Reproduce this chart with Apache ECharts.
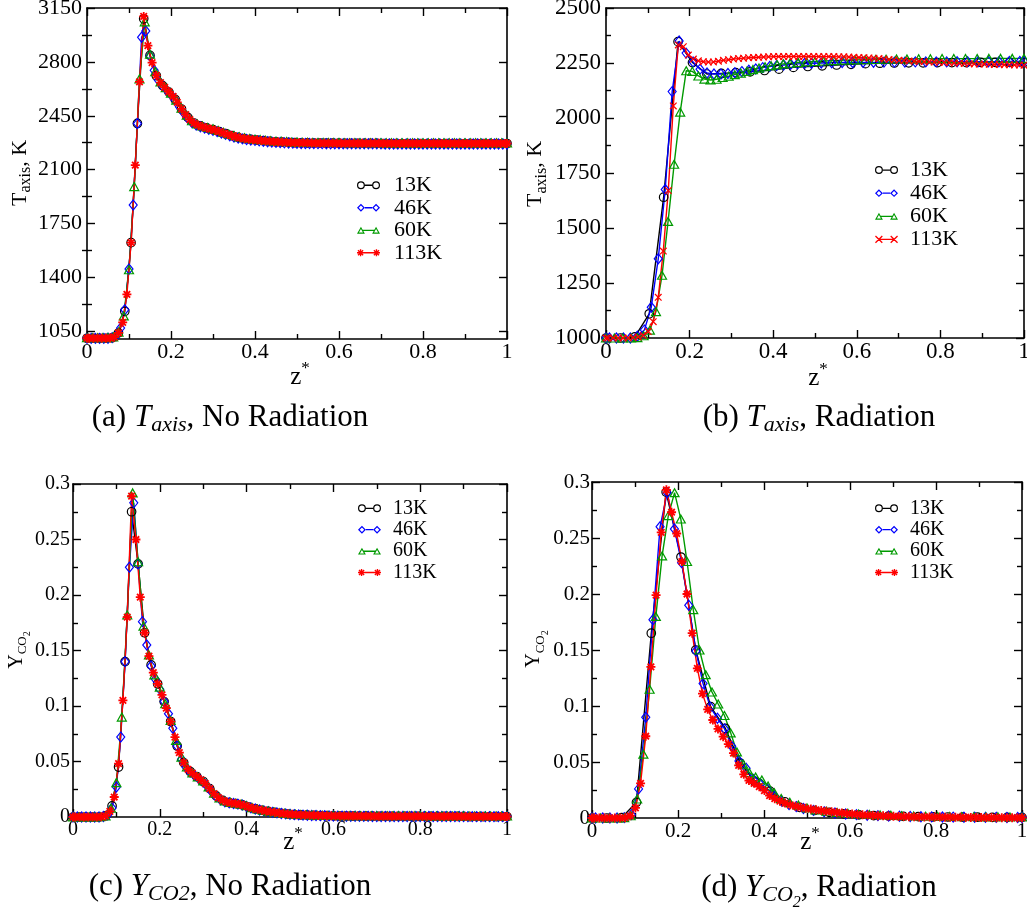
<!DOCTYPE html>
<html>
<head>
<meta charset="utf-8">
<title>Axial temperature and CO2 profiles – mesh study</title>
<script src="https://cdn.jsdelivr.net/npm/echarts@6.0.0/dist/echarts.min.js"></script>
<style>
  html, body { margin: 0; padding: 0; background: #fff; }
  #chart { width: 1027px; height: 915px; }
</style>
</head>
<body>
<div id="chart"></div>
<script>
// ---------------------------------------------------------------------------
// Axial sample positions (z*) of the four meshes, no-radiation runs
// ---------------------------------------------------------------------------
const zNR13 = [0,0.015,0.03,0.045,0.06,0.075,0.09,0.105,0.12,0.135,0.15,0.165,0.18,0.195,0.21,0.225,0.24,0.255,0.27,0.285,0.3,0.315,0.33,0.345,0.36,0.375,0.39,0.405,0.42,0.435,0.45,0.465,0.48,0.495,0.51,0.525,0.54,0.555,0.57,0.585,0.6,0.615,0.63,0.645,0.66,0.675,0.69,0.705,0.72,0.735,0.75,0.765,0.78,0.795,0.81,0.825,0.84,0.855,0.87,0.885,0.9,0.915,0.93,0.945,0.96,0.975,0.99,1];
const zNR46 = [0,0.01,0.02,0.03,0.04,0.05,0.06,0.07,0.08,0.09,0.1,0.11,0.12,0.13,0.14,0.15,0.16,0.17,0.18,0.19,0.2,0.21,0.22,0.23,0.24,0.25,0.26,0.27,0.28,0.29,0.3,0.31,0.32,0.33,0.34,0.35,0.36,0.37,0.38,0.39,0.4,0.41,0.42,0.43,0.44,0.45,0.46,0.47,0.48,0.49,0.5,0.51,0.52,0.53,0.54,0.55,0.56,0.57,0.58,0.59,0.6,0.61,0.62,0.63,0.64,0.65,0.66,0.67,0.68,0.69,0.7,0.71,0.72,0.73,0.74,0.75,0.76,0.77,0.78,0.79,0.8,0.81,0.82,0.83,0.84,0.85,0.86,0.87,0.88,0.89,0.9,0.91,0.92,0.93,0.94,0.95,0.96,0.97,0.98,0.99,1];
const zNR60 = [0,0.0125,0.025,0.0375,0.05,0.0625,0.075,0.0875,0.1,0.1125,0.125,0.1375,0.15,0.1625,0.175,0.1875,0.2,0.2125,0.225,0.2375,0.25,0.2625,0.275,0.2875,0.3,0.3125,0.325,0.3375,0.35,0.3625,0.375,0.3875,0.4,0.4125,0.425,0.4375,0.45,0.4625,0.475,0.4875,0.5,0.5125,0.525,0.5375,0.55,0.5625,0.575,0.5875,0.6,0.6125,0.625,0.6375,0.65,0.6625,0.675,0.6875,0.7,0.7125,0.725,0.7375,0.75,0.7625,0.775,0.7875,0.8,0.8125,0.825,0.8375,0.85,0.8625,0.875,0.8875,0.9,0.9125,0.925,0.9375,0.95,0.9625,0.975,0.9875,1];
const zNR113 = [0,0.005,0.015,0.025,0.035,0.045,0.055,0.065,0.075,0.085,0.095,0.105,0.115,0.125,0.135,0.145,0.155,0.165,0.175,0.185,0.195,0.205,0.215,0.225,0.235,0.245,0.255,0.265,0.275,0.285,0.295,0.305,0.315,0.325,0.335,0.345,0.355,0.365,0.375,0.385,0.395,0.405,0.415,0.425,0.435,0.445,0.455,0.465,0.475,0.485,0.495,0.505,0.515,0.525,0.535,0.545,0.555,0.565,0.575,0.585,0.595,0.605,0.615,0.625,0.635,0.645,0.655,0.665,0.675,0.685,0.695,0.705,0.715,0.725,0.735,0.745,0.755,0.765,0.775,0.785,0.795,0.805,0.815,0.825,0.835,0.845,0.855,0.865,0.875,0.885,0.895,0.905,0.915,0.925,0.935,0.945,0.955,0.965,0.975,0.985,0.995,1];

// (a) axial temperature [K], no radiation
const tA13 = [1005,1005,1005,1005,1008,1040,1180,1626,2400,3080,2842,2710,2646,2604,2556,2494,2440,2403,2384,2371,2360,2347,2334,2321,2310,2302,2297,2292,2288,2284,2281,2279,2277,2275,2274,2274,2273,2273,2272,2272,2272,
  2271,2271,2271,2271,2271,2271,
  2270,2270,2270,2270,2270,2270,2270,2270,2270,2270,2270,2270,2270,2270,2270,2270,2270,2270,2270,2270,2270];
const tA46 = [1004,1004,1004,1004,1004,1005,1009,1022,1072,1190,1455,1870,2400,2960,3000,2838,2745,2680,2643,2615,2586,2553,2509,2469,2434,2406,2390,2379,2370,2362,2355,2347,2338,2329,2320,2312,2305,2300,2296,2293,2290,2287,2284,2281,2279,2277,2276,2274,2273,2272,2271,2270,2270,2270,2269,2269,2269,
  2268,2268,2268,2268,2268,2268,2268,2268,2268,2268,2268,2268,2268,2268,
  2267,2267,2267,2267,2267,2267,2267,2267,2267,2267,2267,2267,2267,2267,2267,2267,2267,2267,2267,2267,2267,2267,2267,2267,2267,2267,2267,2267,2267,2267];
const tA60 = [1008,1008,1008,1008,1009,1014,1045,1150,1450,1990,2690,3060,2850,2736,2670,2632,2597,2552,2500,2454,2418,2397,2384,2374,2365,2355,2343,2332,2322,2313,2307,2302,2298,2295,2291,2288,2285,2284,2282,2280,2279,2278,2278,2277,2277,2277,2276,2276,2276,
  2275,2275,2275,2275,2275,2275,2275,2275,
  2274,2274,2274,2274,2274,2274,2274,2274,2274,2274,2274,2274,2274,2274,2274,2274,2274,2274,2274,2274,2274,2274,2274,2274];
const tA113 = [1005,1005,1005,1005,1005,1005,1006,1012,1040,1108,1290,1626,2130,2670,3095,2905,2795,2712,2665,2635,2606,2576,2537,2495,2457,2425,2403,2389,2379,2371,2363,2356,2347,2338,2329,2321,2313,2307,2302,2298,2295,2292,2289,2286,2284,2282,2280,2279,2277,2276,2275,2275,2274,2274,2273,2273,2273,2272,2272,2272,2272,
  2271,2271,2271,2271,2271,2271,2271,2271,2271,2271,
  2270,2270,2270,2270,2270,2270,2270,2270,2270,2270,2270,2270,2270,2270,2270,2270,2270,2270,2270,2270,2270,2270,2270,2270,2270,2270,2270,2270,2270,2270,2270];

// (c) CO2 mass fraction, no radiation
const cA13 = [0,0,0,0,0,0.001,0.01,0.045,0.14,0.275,0.228,0.166,0.137,0.12,0.104,0.086,0.064,0.049,0.041,0.0365,0.032,0.0255,0.019,0.015,0.013,0.0121,0.011,0.009,0.0074,0.0061,0.005,0.0041,0.0033,0.0027,0.0022,0.0019,0.0017,0.0015,0.0013,0.0012,0.001,0.0009,0.0009,0.0008,0.0008,0.0007,0.0007,
  0.0006,0.0006,0.0006,0.0006,0.0006,0.0006,0.0006,0.0005,0.0005,0.0005,0.0005,0.0005,0.0005,0.0005,0.0004,0.0004,0.0004,0.0004,0.0004,0.0004,0.0004];
const cA46 = [0,0,0,0,0,0,0,0.0005,0.002,0.008,0.027,0.072,0.14,0.225,0.283,0.228,0.176,0.155,0.136,0.124,0.115,0.104,0.093,0.08,0.064,0.052,0.045,0.0405,0.0375,0.0345,0.0315,0.0275,0.0225,0.0185,0.0155,0.0137,0.0128,0.0122,0.0116,0.0108,0.0095,0.0082,0.0072,0.0063,0.0055,0.0048,0.0042,0.0037,0.0032,0.0028,0.0024,0.0021,0.0019,0.0017,0.0016,0.0014,0.0013,0.0012,0.0011,0.001,0.0009,0.0008,0.0008,0.0007,0.0007,0.0007,0.0006,0.0006,0.0006,0.0005,0.0005,
  0.0005,0.0005,0.0005,0.0005,0.0005,0.0005,0.0005,0.0005,0.0005,0.0005,
  0.0004,0.0004,0.0004,0.0004,0.0004,0.0004,0.0004,0.0004,0.0004,0.0004,
  0.0003,0.0003,0.0003,0.0003,0.0003,0.0003,0.0003,0.0003,0.0003,0.0003];
const cA60 = [0,0,0,0,0,0.0002,0.001,0.008,0.031,0.09,0.182,0.292,0.23,0.172,0.146,0.128,0.117,0.102,0.087,0.069,0.054,0.045,0.0398,0.036,0.0325,0.027,0.0215,0.0172,0.0145,0.0132,0.0124,0.0116,0.0101,0.0085,0.0072,0.0062,0.0053,0.0046,0.0039,0.0033,0.0028,0.0025,0.0022,0.002,0.0018,0.0016,0.0015,0.0014,0.0013,
  0.0012,0.0012,0.0012,0.0012,0.0012,0.0012,0.0012,0.0012,
  0.0011,0.0011,0.0011,0.0011,0.0011,0.0011,0.0011,0.0011,
  0.001,0.001,0.001,0.001,0.001,0.001,0.001,0.001,
  0.0009,0.0009,0.0009,0.0009,0.0009,0.0009,0.0009,0.0009];
const cA113 = [0,0,0,0,0,0,0,0.0002,0.001,0.005,0.018,0.048,0.105,0.18,0.289,0.25,0.198,0.166,0.145,0.13,0.12,0.11,0.098,0.086,0.072,0.058,0.049,0.043,0.0395,0.0365,0.0335,0.03,0.0255,0.021,0.0175,0.015,0.0135,0.0127,0.0121,0.0114,0.0104,0.009,0.0079,0.0069,0.0061,0.0053,0.0047,0.0041,0.0036,0.0031,0.0027,0.0024,0.0021,0.0019,0.0018,0.0016,0.0015,0.0014,0.0013,0.0012,0.0011,0.001,0.001,0.0009,0.0009,0.0008,0.0008,0.0007,0.0007,0.0007,0.0006,
  0.0006,0.0006,0.0006,0.0006,0.0006,0.0006,0.0006,0.0006,0.0006,0.0006,
  0.0005,0.0005,0.0005,0.0005,0.0005,0.0005,0.0005,0.0005,0.0005,0.0005,
  0.0004,0.0004,0.0004,0.0004,0.0004,0.0004,0.0004,0.0004,0.0004,0.0004,0.0004];

// ---------------------------------------------------------------------------
// Axial sample positions (z*) of the four meshes, radiation runs
// ---------------------------------------------------------------------------
const zR13 = [0,0.0345,0.069,0.1034,0.1379,0.1724,0.2069,0.2414,0.2759,0.3103,0.3448,0.3793,0.4138,0.4483,0.4828,0.5172,0.5517,0.5862,0.6207,0.6552,0.6897,0.7241,0.7586,0.7931,0.8276,0.8621,0.8966,0.931,0.9655,1];
const zR46 = [0,0.0083,0.025,0.0417,0.0583,0.075,0.0917,0.1083,0.125,0.1417,0.1583,0.175,0.1917,0.2083,0.225,0.2417,0.2583,0.275,0.2917,0.3083,0.325,0.3417,0.3583,0.375,0.3917,0.4083,0.425,0.4417,0.4583,0.475,0.4917,0.515,0.54,0.565,0.59,0.615,0.64,0.665,0.69,0.715,0.74,0.765,0.79,0.815,0.84,0.865,0.89,0.915,0.94,0.965,0.99,1];
const zR60 = [0,0.02,0.04,0.06,0.075,0.09,0.105,0.1195,0.134,0.1485,0.163,0.1775,0.192,0.2065,0.221,0.2355,0.25,0.2645,0.279,0.2935,0.308,0.3225,0.337,0.3515,0.366,0.3805,0.395,0.4095,0.424,0.44,0.46,0.48,0.5,0.52,0.545,0.57,0.595,0.62,0.645,0.67,0.695,0.72,0.748,0.776,0.804,0.832,0.86,0.888,0.916,0.944,0.972,1];
const zR113 = [0,0.005,0.017,0.029,0.041,0.053,0.065,0.077,0.089,0.101,0.113,0.125,0.137,0.149,0.161,0.173,0.185,0.197,0.209,0.221,0.233,0.245,0.257,0.269,0.281,0.293,0.305,0.317,0.329,0.341,0.353,0.365,0.377,0.389,0.401,0.413,0.425,0.437,0.449,0.461,0.473,0.485,0.497,0.509,0.521,0.533,0.545,0.557,0.569,0.581,0.593,0.605,0.617,0.629,0.641,0.653,0.665,0.677,0.689,0.701,0.713,0.725,0.737,0.749,0.761,0.773,0.785,0.797,0.809,0.821,0.833,0.845,0.857,0.869,0.881,0.893,0.905,0.917,0.929,0.941,0.953,0.965,0.977,0.989,1];

// (b) axial temperature [K], radiation
const tB13 = [1000,1000,1005,1110,1640,2347,2252,2200,2203,2206,2210,2216,2222,2230,2234,2237,2241,2244,2247,2249,2250,2251,2251,2252,2252,2252,2253,2253,2253,2253];
const tB46 = [1000,1000,1000,1000,1000,1008,1036,1140,1360,1675,2120,2350,2295,2255,2222,2205,2200,2200,2202,2206,2211,2217,2223,2229,2234,2238,2241,2244,2246,2248,2249,
  2250,2251,2252,2252,2253,2253,2254,2254,2254,2255,2255,2255,2255,2256,2256,2256,2256,2256,2257,2257,2257];
const tB60 = [1000,1000,1000,1000,1002,1010,1036,1120,1285,1530,1790,2027,2215,2212,2191,2177,2173,2176,2184,2190,2197,2204,2212,2220,2227,2233,2238,2242,2246,
  2249,2252,2255,2257,2259,2261,2263,2264,2265,2266,2267,2268,2268,2269,2269,2270,2270,2270,2270,2271,2271,2271,2271];
const tB113 = [1000,1000,1000,1000,1000,1000,1002,1005,1012,1029,1074,1185,1395,1670,2055,2332,2324,2286,2268,2260,2256,2254,2255,2258,2262,2265,2268,2270,2272,2274,2275,2276,2277,2278,2279,
  2279,2279,2280,2280,2280,2280,2280,2280,2279,2279,2279,2279,2278,2278,
  2277,2276,2275,2274,2273,2272,2270,2268,2266,2264,2262,2261,2259,2258,2257,2256,2255,2254,2253,2252,2251,2250,2249,2248,2247,2246,2245,2245,2244,2243,2243,2242,2242,2241,2241,2240];

// (d) CO2 mass fraction, radiation
const cD13 = [0,0,0.0003,0.014,0.165,0.291,0.233,0.15,0.0994,0.08,0.049,0.032,0.024,0.0145,0.0095,0.0067,0.005,0.0037,0.0028,0.0022,0.0018,0.0015,0.0012,0.001,0.0009,0.0008,0.0007,0.0006,0.0005,0.0005];
const cD46 = [0,0,0,0,0,0.0003,0.003,0.026,0.09,0.177,0.26,0.2905,0.258,0.228,0.19,0.149,0.12,0.099,0.089,0.0795,0.064,0.051,0.0445,0.0345,0.0299,0.026,0.0195,0.015,0.012,0.0102,0.0085,
  0.0068,0.0055,0.0044,0.0036,0.003,0.0025,0.0021,0.0018,0.0015,0.0013,0.0011,0.001,0.0009,0.0008,0.0007,0.0007,0.0006,0.0006,0.0005,0.0005,0.0005];
const cD60 = [0,0,0,0,0.0003,0.002,0.017,0.057,0.115,0.18,0.234,0.27,0.2905,0.267,0.229,0.186,0.15,0.128,0.1125,0.1018,0.0915,0.076,0.059,0.048,0.0405,0.0367,0.034,0.0285,0.0225,
  0.0175,0.014,0.0115,0.009,0.0072,0.006,0.005,0.0042,0.0036,0.0031,0.0027,0.0024,0.0021,0.0018,0.0016,0.0014,0.0013,0.0012,0.0011,0.001,0.001,0.0009,0.0009];
const cD113 = [0,0,0,0,0,0,0,0.0003,0.002,0.009,0.031,0.073,0.135,0.199,0.255,0.293,0.273,0.254,0.229,0.2,0.165,0.1336,0.111,0.097,0.0875,0.0795,0.0726,0.066,0.058,0.047,0.039,0.0335,0.031,0.028,0.0245,0.02,0.0172,0.015,0.0133,0.0118,0.0105,0.0095,0.0087,0.008,0.0073,0.0066,0.006,0.0055,0.005,0.0045,0.004,0.0036,0.0032,0.0029,0.0026,0.0023,0.0021,0.0019,0.0017,0.0015,0.0014,0.0013,0.0012,0.0011,0.001,0.0009,0.0009,0.0008,0.0008,0.0007,0.0007,0.0006,0.0006,0.0005,0.0005,0.0005,0.0004,0.0004,0.0004,0.0003,0.0003,0.0003,0.0003,0.0003,0.0003];

// Mesh labels and the temperature ticks of panel (a)
const meshNames = ['13K', '46K', '60K', '113K'];
const tTicksA = [1050, 1400, 1750, 2100, 2450, 2800, 3150];
const tMinorA = [1225, 1575, 1925, 2275, 2625, 2975];

// ---------------------------------------------------------------------------
const FONT = 'Liberation Serif';
const COLORS = ['#000000', '#0000ff', '#009a00', '#ff0000'];

// --- marker geometry helpers (path strings) --------------------------------
function ringPath(cx, cy, R, r) {
  return `M${cx - R} ${cy}A${R} ${R} 0 1 1 ${cx + R} ${cy}A${R} ${R} 0 1 1 ${cx - R} ${cy}Z` +
         `M${cx - r} ${cy}A${r} ${r} 0 1 0 ${cx + r} ${cy}A${r} ${r} 0 1 0 ${cx - r} ${cy}Z`;
}
function diamondRing(cx, cy, R, r) {
  return `M${cx - R} ${cy}L${cx} ${cy - R}L${cx + R} ${cy}L${cx} ${cy + R}Z` +
         `M${cx - r} ${cy}L${cx} ${cy + r}L${cx + r} ${cy}L${cx} ${cy - r}Z`;
}
function triRing(cx, cy) {
  return `M${cx} ${cy - 6.6}L${cx + 7.2} ${cy + 6}L${cx - 7.2} ${cy + 6}Z` +
         `M${cx} ${cy - 2.4}L${cx - 3.7} ${cy + 3.9}L${cx + 3.7} ${cy + 3.9}Z`;
}
function starPath(cx, cy, R, t, plus) {
  let p = '';
  let d = R;
  if (plus) {
    p += `M${cx - t} ${cy - R}H${cx + t}V${cy + R}H${cx - t}Z`;
    p += `M${cx - R} ${cy - t}H${cx + R}V${cy + t}H${cx - R}Z`;
    d = R * 0.72;
  }
  const o = t * Math.SQRT1_2;
  p += `M${cx - d + o} ${cy - d - o}L${cx + d + o} ${cy + d - o}L${cx + d - o} ${cy + d + o}L${cx - d - o} ${cy - d + o}Z`;
  p += `M${cx + d - o} ${cy - d - o}L${cx + d + o} ${cy - d + o}L${cx - d + o} ${cy + d + o}L${cx - d - o} ${cy + d - o}Z`;
  return p;
}
function bar(x0, x1, cy) {
  return `M${x0} ${cy - 1.2}H${x1}V${cy + 1.2}H${x0}Z`;
}
// legend glyph: marker – line – marker
function pairIcon(kind) {
  switch (kind) {
    case 'circle':   return 'path://' + ringPath(7.2, 7.2, 7.2, 5, 0) + bar(14.4, 27.6, 7.2) + ringPath(34.8, 7.2, 7.2, 5);
    case 'diamond':  return 'path://' + diamondRing(7.2, 7.2, 7.2, 4.1) + bar(14.4, 27.6, 7.2) + diamondRing(34.8, 7.2, 7.2, 4.1);
    case 'triangle': return 'path://' + triRing(7.2, 7.2) + bar(10, 32, 7.2) + triRing(34.8, 7.2);
    case 'asterisk': return 'path://' + starPath(6.5, 7.2, 6.5, 1.25, true) + bar(6.5, 35.5, 7.2) + starPath(35.5, 7.2, 6.5, 1.25, true);
    default:         return 'path://' + starPath(6.5, 7.2, 6.5, 1.25, false) + bar(6.5, 35.5, 7.2) + starPath(35.5, 7.2, 6.5, 1.25, false);
  }
}
const MARKS = {
  circle:   { symbol: 'circle', size: 8.5, hollow: true },
  diamond:  { symbol: 'diamond', size: [8, 10], hollow: true },
  triangle: { symbol: 'triangle', size: [9, 8], hollow: true },
  asterisk: { symbol: 'path://' + starPath(5, 5, 5, 1, true), size: 9, hollow: false },
  cross:    { symbol: 'path://' + starPath(5, 5, 5, 0.95, false), size: 7.5, hollow: false }
};

// --- axes ------------------------------------------------------------------
function fmt(v) { return String(Math.round(v * 10000) / 10000); }
function axisBase(extra) {
  return Object.assign({
    type: 'value',
    silent: true,
    axisLine: { show: true, onZero: false, lineStyle: { color: '#000', width: 1.6 } },
    axisTick: { show: true, inside: true, length: 8, lineStyle: { color: '#000', width: 1.4 } },
    minorTick: { show: true, splitNumber: 2, length: 5, lineStyle: { color: '#000', width: 1.4 } },
    splitLine: { show: false },
    minorSplitLine: { show: false },
    axisLabel: { show: false }
  }, extra);
}
function labels(fs, margin) {
  return { show: true, color: '#000', fontFamily: FONT, fontSize: fs, margin: margin, formatter: fmt };
}

const xAxis = [];
[[0, 22, 2], [1, 23, 2], [2, 20, 3], [3, 21, 3]].forEach(([g, fs, m]) => {
  xAxis.push(axisBase({ gridIndex: g, position: 'bottom', min: 0, max: 1, interval: 0.2, axisLabel: labels(fs, m) }));
  xAxis.push(axisBase({ gridIndex: g, position: 'top', min: 0, max: 1, interval: 0.2 }));
});

const tickLine = { color: '#000', width: 1.4 };
const yAxis = [
  // panel (a): labelled ticks start at 1050 while the frame starts at 1000
  axisBase({ gridIndex: 0, position: 'left', min: 1000, max: 3150,
    axisTick: { show: true, inside: true, length: 8, customValues: tTicksA, lineStyle: tickLine },
    minorTick: { show: false },
    axisLabel: Object.assign(labels(22, 5), { customValues: tTicksA }) }),
  axisBase({ gridIndex: 0, position: 'left', min: 1000, max: 3150, axisLine: { show: false },
    axisTick: { show: true, inside: true, length: 5, customValues: tMinorA, lineStyle: tickLine },
    minorTick: { show: false } }),
  axisBase({ gridIndex: 0, position: 'right', min: 1000, max: 3150,
    axisTick: { show: true, inside: true, length: 8, customValues: tTicksA, lineStyle: tickLine },
    minorTick: { show: false } }),
  axisBase({ gridIndex: 0, position: 'right', min: 1000, max: 3150, axisLine: { show: false },
    axisTick: { show: true, inside: true, length: 5, customValues: tMinorA, lineStyle: tickLine },
    minorTick: { show: false } }),
  // panel (b)
  axisBase({ gridIndex: 1, position: 'left', min: 1000, max: 2500, interval: 250, axisLabel: labels(23, 5) }),
  axisBase({ gridIndex: 1, position: 'right', min: 1000, max: 2500, interval: 250 }),
  // panel (c)
  axisBase({ gridIndex: 2, position: 'left', min: 0, max: 0.3, interval: 0.05, axisLabel: labels(20, 3) }),
  axisBase({ gridIndex: 2, position: 'right', min: 0, max: 0.3, interval: 0.05 }),
  // panel (d)
  axisBase({ gridIndex: 3, position: 'left', min: 0, max: 0.3, interval: 0.05, axisLabel: labels(21, 2) }),
  axisBase({ gridIndex: 3, position: 'right', min: 0, max: 0.3, interval: 0.05 })
];

// --- series ----------------------------------------------------------------
function line(name, xi, yi, zs, vs, mark, color) {
  const m = MARKS[mark];
  return {
    name: name, type: 'line', xAxisIndex: xi, yAxisIndex: yi,
    data: zs.map((z, i) => [z, vs[i]]),
    symbol: m.symbol, symbolSize: m.size, showSymbol: true, clip: false,
    lineStyle: { color: color, width: 1.4 },
    itemStyle: m.hollow ? { color: 'rgba(255,255,255,0)', borderColor: color, borderWidth: 1.2 }
                        : { color: color, borderWidth: 0 },
    emphasis: { disabled: true }, silent: true, animation: false
  };
}
const kindsStar = ['circle', 'diamond', 'triangle', 'asterisk'];
const kindsCross = ['circle', 'diamond', 'triangle', 'cross'];

const panels = [
  { key: 'a', xi: 0, yi: 0, z: [zNR13, zNR46, zNR60, zNR113], v: [tA13, tA46, tA60, tA113], kinds: kindsStar },
  { key: 'b', xi: 2, yi: 4, z: [zR13, zR46, zR60, zR113],     v: [tB13, tB46, tB60, tB113], kinds: kindsCross },
  { key: 'c', xi: 4, yi: 6, z: [zNR13, zNR46, zNR60, zNR113], v: [cA13, cA46, cA60, cA113], kinds: kindsStar },
  { key: 'd', xi: 6, yi: 8, z: [zR13, zR46, zR60, zR113],     v: [cD13, cD46, cD60, cD113], kinds: kindsStar }
];
const series = [];
panels.forEach(p => {
  meshNames.forEach((n, i) => {
    series.push(line(p.key + n, p.xi, p.yi, p.z[i], p.v[i], p.kinds[i], COLORS[i]));
  });
});

// --- legends -----------------------------------------------------------------
function legend(key, kinds, left, top, fs, lh, pad) {
  return {
    orient: 'vertical', left: left, top: top, padding: 0,
    itemWidth: 23, itemHeight: 8, itemGap: 0, selectedMode: false,
    data: meshNames.map((n, i) => ({ name: key + n, icon: pairIcon(kinds[i]), itemStyle: { color: COLORS[i], borderWidth: 0 } })),
    formatter: name => name.slice(1),
    textStyle: { fontFamily: FONT, fontSize: fs, color: '#000', lineHeight: lh, padding: [0, 0, 0, pad] }
  };
}

// --- texts: axis titles and captions ---------------------------------------------
function text(x, y, str, rich, rotation) {
  return { type: 'text', x: x, y: y, rotation: rotation || 0, silent: true,
    style: { text: str, rich: rich, align: 'center', verticalAlign: 'middle', fill: '#000', fontFamily: FONT, fontSize: 20 } };
}
const Z_RICH = {
  z: { fontFamily: FONT, fontSize: 25, lineHeight: 25, verticalAlign: 'bottom', fill: '#000' },
  s: { fontFamily: FONT, fontSize: 17, lineHeight: 17, padding: [0, 0, 12, 0], verticalAlign: 'bottom', fill: '#000' }
};
const T_RICH = {
  t: { fontFamily: FONT, fontSize: 22, lineHeight: 22, verticalAlign: 'top', fill: '#000' },
  s: { fontFamily: FONT, fontSize: 16, lineHeight: 16, padding: [9, 0, 0, 0], verticalAlign: 'top', fill: '#000' }
};
const Y_RICH = {
  t: { fontFamily: FONT, fontSize: 20, lineHeight: 20, verticalAlign: 'top', fill: '#000' },
  s: { fontFamily: FONT, fontSize: 13, lineHeight: 13, padding: [10, 0, 0, 0], verticalAlign: 'top', fill: '#000' },
  ss: { fontFamily: FONT, fontSize: 10, lineHeight: 10, padding: [16, 0, 0, 0], verticalAlign: 'top', fill: '#000' }
};
const CAP_RICH = {
  n: { fontFamily: FONT, fontSize: 31, lineHeight: 31, verticalAlign: 'top', fill: '#000' },
  i: { fontFamily: FONT, fontSize: 31, lineHeight: 31, fontStyle: 'italic', verticalAlign: 'top', fill: '#000' },
  s: { fontFamily: FONT, fontSize: 22, lineHeight: 22, fontStyle: 'italic', padding: [12, 0, 0, 0], verticalAlign: 'top', fill: '#000' },
  ss: { fontFamily: FONT, fontSize: 16, lineHeight: 16, fontStyle: 'italic', padding: [22, 0, 0, 0], verticalAlign: 'top', fill: '#000' }
};

const graphic = [
  text(300, 377, '{z|z}{s|*}', Z_RICH),
  text(818, 378, '{z|z}{s|*}', Z_RICH),
  text(293, 842, '{z|z}{s|*}', Z_RICH),
  text(810, 842, '{z|z}{s|*}', Z_RICH),
  text(20, 173, '{t|T}{s|axis}{t|, K}', T_RICH, Math.PI / 2),
  text(535.5, 174, '{t|T}{s|axis}{t|, K}', T_RICH, Math.PI / 2),
  text(16.5, 650, '{t|Y}{s|CO}{ss|2}', Y_RICH, Math.PI / 2),
  text(534, 649, '{t|Y}{s|CO}{ss|2}', Y_RICH, Math.PI / 2),
  text(230, 417.5, '{n|(a) }{i|T}{s|axis}{n|, No Radiation}', CAP_RICH),
  text(819, 417.5, '{n|(b) }{i|T}{s|axis}{n|, Radiation}', CAP_RICH),
  text(230, 886.5, '{n|(c) }{i|Y}{s|CO2}{n|, No Radiation}', CAP_RICH),
  text(819, 888, '{n|(d) }{i|Y}{s|CO}{ss|2}{n|, Radiation}', CAP_RICH)
];

const chart = echarts.init(document.getElementById('chart'), null, { renderer: 'canvas' });
chart.setOption({
  animation: false,
  backgroundColor: '#ffffff',
  textStyle: { fontFamily: FONT },
  grid: [
    { left: 87, top: 8, width: 420, height: 331, outerBoundsMode: 'none' },
    { left: 606, top: 8, width: 418, height: 330, outerBoundsMode: 'none' },
    { left: 73, top: 484, width: 434, height: 333, outerBoundsMode: 'none' },
    { left: 592, top: 482, width: 430, height: 336, outerBoundsMode: 'none' }
  ],
  xAxis: xAxis,
  yAxis: yAxis,
  legend: [
    legend('a', kindsStar, 357, 174, 22, 22.5, 9),
    legend('b', kindsCross, 875, 158.5, 22, 23.1, 7),
    legend('c', kindsStar, 358, 497.6, 20, 21.4, 7),
    legend('d', kindsStar, 875, 497.6, 20, 21.4, 7)
  ],
  graphic: graphic,
  series: series
});
</script>
</body>
</html>
